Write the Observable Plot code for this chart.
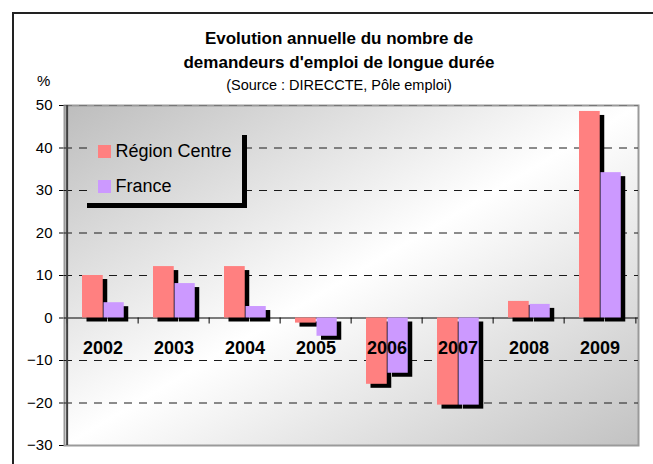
<!DOCTYPE html>
<html>
<head>
<meta charset="utf-8">
<script src="https://cdn.jsdelivr.net/npm/d3@7"></script>
<script src="https://cdn.jsdelivr.net/npm/@observablehq/plot@0.6"></script>
<style>
  body { margin: 0; background: #fff; font-family: "Liberation Sans", Arial, sans-serif; }
  #wrap { position: relative; width: 653px; height: 464px; overflow: hidden; background: #fff; }
  #border { position: absolute; left: 12px; top: 12px; width: 700px; height: 500px;
            border-left: 2px solid #222; border-top: 2px solid #222; }
  .t { position: absolute; left: 0; width: 678px; text-align: center; line-height: 1; white-space: nowrap; color: #000; }
  #chart { position: absolute; left: 0; top: 0; }
  #chart svg [aria-label^="y-axis"] text, #chart svg [aria-label^="y-axis"] { font-size: 15px !important; }
</style>
</head>
<body>
<div id="wrap">
  <div id="border"></div>
  <div id="chart"></div>
  <div class="t" id="t1" style="top:29.6px;font-size:17px;font-weight:bold;"></div>
  <div class="t" id="t2" style="top:53.6px;font-size:17px;font-weight:bold;"></div>
  <div class="t" id="t3" style="top:78.4px;font-size:14.5px;"></div>
  <div class="t" id="unit" style="left:37px;width:auto;top:73.3px;font-size:15px;"></div>
</div>
<script>
// ---- data ----
const titleLines = ["Evolution annuelle du nombre de", "demandeurs d'emploi de longue durée"];
const sourceText = "(Source : DIRECCTE, Pôle emploi)";
const unitLabel = "%";
const years = ["2002", "2003", "2004", "2005", "2006", "2007", "2008", "2009"];
const regionCentre = [10.0, 12.1, 12.1, -1.2, -15.6, -20.5, 3.9, 48.6];
const france = [3.6, 8.1, 2.7, -4.3, -13.0, -20.5, 3.2, 34.2];
const seriesNames = ["Région Centre", "France"];
const seriesColors = ["#ff8080", "#cc99ff"];
const yTicks = [-30, -20, -10, 0, 10, 20, 30, 40, 50];
const gridValues = [-20, -10, 10, 20, 30, 40];
const topValue = [50];

document.getElementById("t1").textContent = titleLines[0];
document.getElementById("t2").textContent = titleLines[1];
document.getElementById("t3").textContent = sourceText;
document.getElementById("unit").textContent = unitLabel;

// ---- layout ----
const W = 653, H = 464, mL = 64, mR = 15, mT = 105, mB = 19;
const bw = (W - mL - mR) / years.length;
const rows = years.map((y, i) => ({year: y, rc: regionCentre[i], fr: france[i]}));

const shadowOpts = {fill: "#000", dx: 4.5, dy: 4};
const chart = Plot.plot({
  width: W, height: H,
  marginLeft: mL, marginRight: mR, marginTop: mT, marginBottom: mB,
  style: {fontFamily: "'Liberation Sans', Arial, sans-serif", fontSize: "15px", color: "#000", background: "transparent", overflow: "visible"},
  x: {type: "band", domain: years, padding: 0, axis: null},
  y: {domain: [-30, 50], ticks: yTicks, tickSize: 5, tickPadding: 7, label: null},
  marks: [
    Plot.frame({fill: "#eeeeee"}),
    Plot.frame({stroke: "#9a9a9a", strokeWidth: 2}),
    Plot.ruleY(gridValues, {stroke: "#1a1a1a", strokeDasharray: "8,7"}),
    Plot.ruleY(topValue, {stroke: "#777", strokeDasharray: "8,7"}),
    Plot.ruleY([0], {stroke: "#000"}),
    Plot.ruleX(years, {x: d => d, y1: 0, y2: 0, insetBottom: -6, dx: -bw / 2, stroke: "#000"}),
    Plot.ruleX(years.slice(-1), {x: d => d, y1: 0, y2: 0, insetBottom: -6, dx: bw / 2, stroke: "#000"}),
    Plot.barY(rows, {x: "year", y: "rc", insetLeft: 15, insetRight: bw - 36.5, ...shadowOpts}),
    Plot.barY(rows, {x: "year", y: "fr", insetLeft: 36.5, insetRight: bw - 57.5, ...shadowOpts}),
    Plot.barY(rows, {x: "year", y: "rc", insetLeft: 15, insetRight: bw - 36.5, fill: seriesColors[0]}),
    Plot.barY(rows, {x: "year", y: "fr", insetLeft: 36.5, insetRight: bw - 57.5, fill: seriesColors[1]}),
    Plot.ruleX(years.slice(0, 1), {x: d => d, dx: -bw / 2, stroke: "#404040", strokeWidth: 2}),
    Plot.text(rows, {x: "year", y: 0, text: "year", dy: 30, fontWeight: "bold", fontSize: 18, fill: "#000"})
  ]
});
document.getElementById("chart").appendChild(chart);

// ---- gradient background + legend ----
const svg = d3.select(chart);
const defs = svg.insert("defs", ":first-child");
const grad = defs.append("linearGradient")
  .attr("id", "bgGrad")
  .attr("gradientUnits", "userSpaceOnUse")
  .attr("x1", 0).attr("y1", 0).attr("x2", 1).attr("y2", 1)
  .attr("gradientTransform", `translate(${mL},${mT}) scale(${W - mL - mR},${H - mT - mB})`);
grad.append("stop").attr("offset", 0).attr("stop-color", "#bdbdbd");
grad.append("stop").attr("offset", 0.5).attr("stop-color", "#ffffff");
grad.append("stop").attr("offset", 1).attr("stop-color", "#c2c2c2");

const frames = chart.querySelectorAll('[aria-label="frame"]');
if (frames.length) {
  const f = frames[0];
  const r = f.tagName.toLowerCase() === "rect" ? f : f.querySelector("rect");
  if (r) r.setAttribute("fill", "url(#bgGrad)");
}

const leg = svg.append("g").attr("class", "legend").attr("text-anchor", "start");
leg.append("rect").attr("x", 87).attr("y", 130).attr("width", 155).attr("height", 73).attr("fill", "url(#bgGrad)");
leg.append("rect").attr("x", 242).attr("y", 135).attr("width", 5).attr("height", 73).attr("fill", "#000");
leg.append("rect").attr("x", 87).attr("y", 203).attr("width", 160).attr("height", 5).attr("fill", "#000");
seriesNames.forEach((name, i) => {
  const y0 = 145 + i * 35;
  leg.append("rect").attr("x", 98).attr("y", y0).attr("width", 13).attr("height", 13).attr("fill", seriesColors[i]);
  leg.append("text").attr("x", 115.5).attr("y", y0 + 11.5)
    .attr("text-anchor", "start")
    .attr("font-size", 18).attr("fill", "#000")
    .attr("font-family", "'Liberation Sans', Arial, sans-serif")
    .text(name);
});
</script>
</body>
</html>
